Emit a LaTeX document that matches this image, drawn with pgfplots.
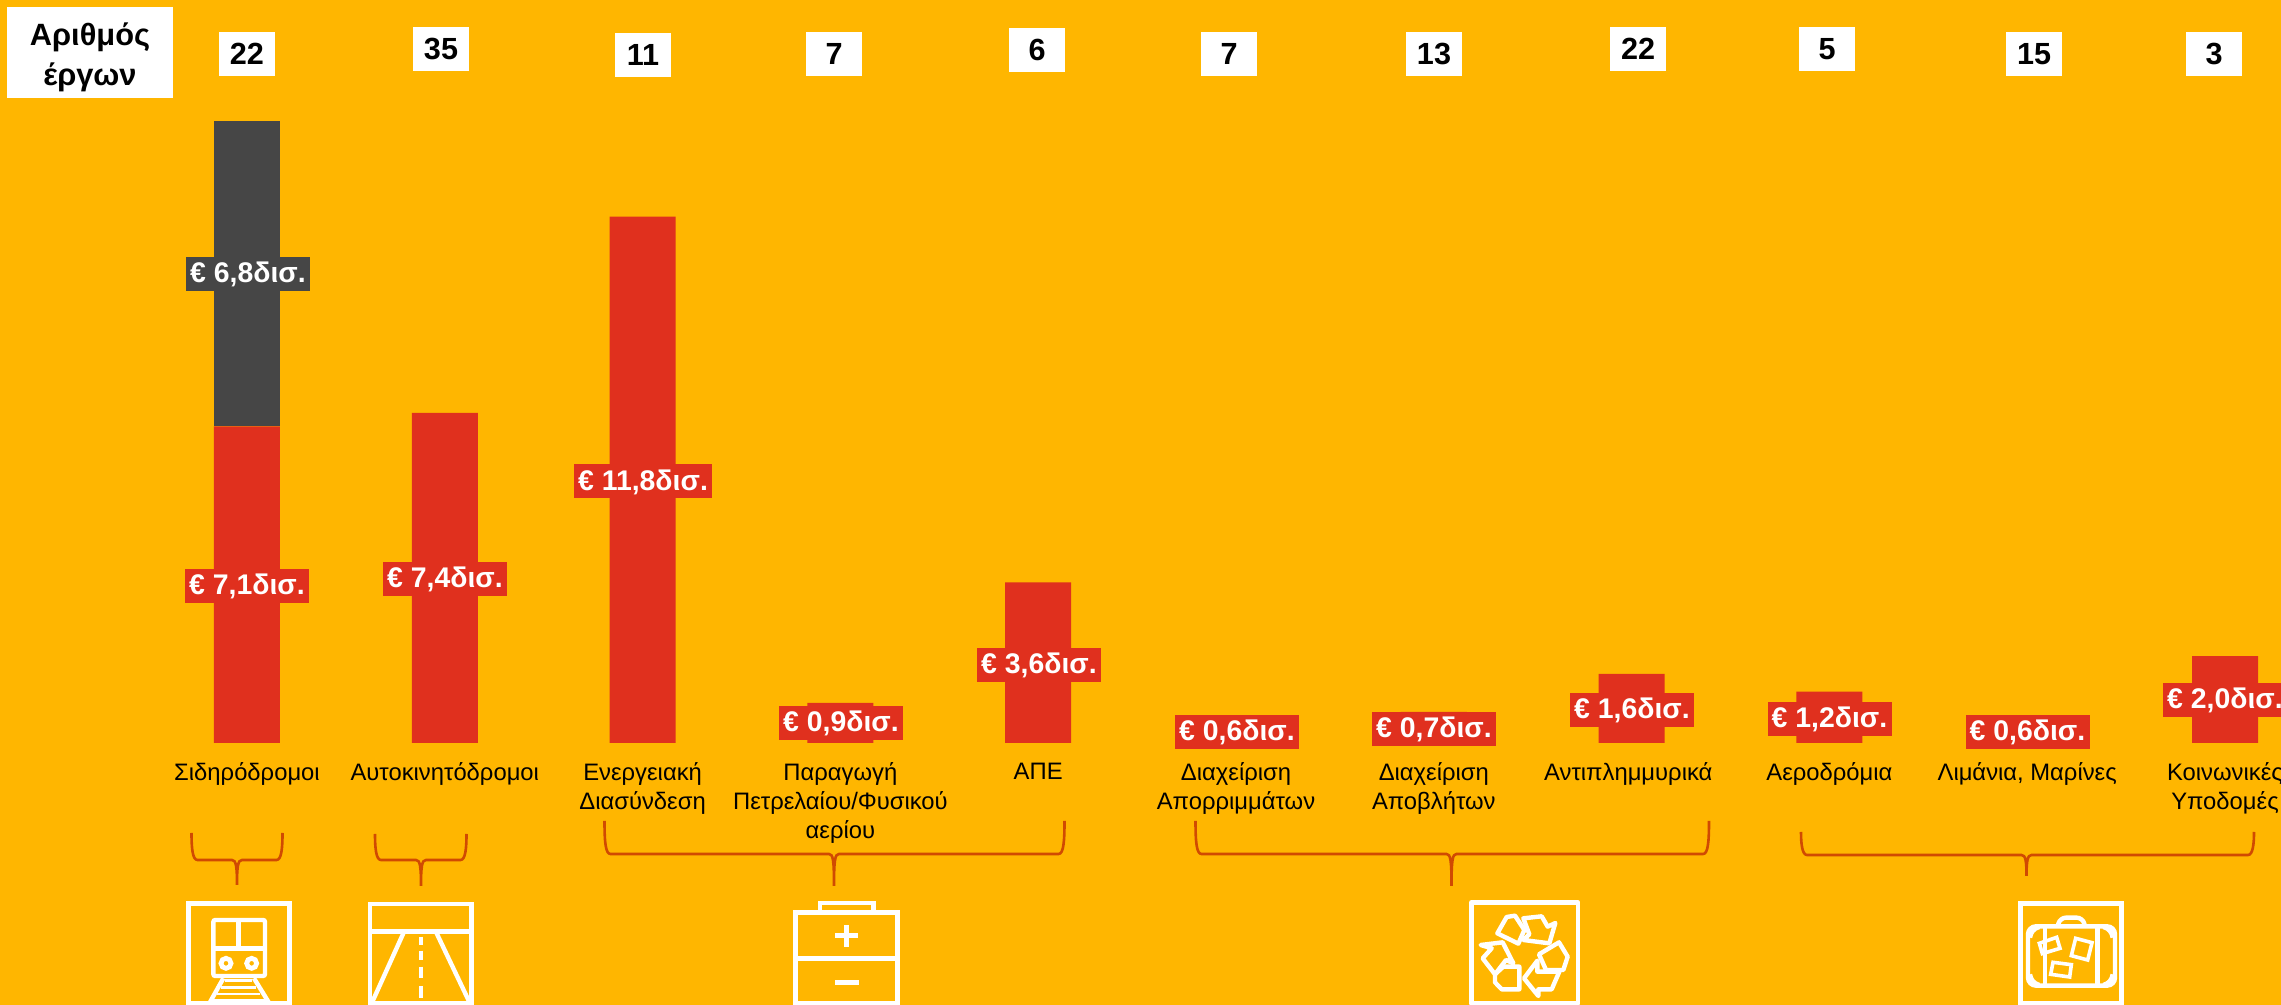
\documentclass[border=0pt]{standalone}
\usepackage{fontspec}
\setmainfont{Liberation Sans}
\usepackage{pgfplots}
\pgfplotsset{compat=1.18}
\definecolor{bgc}{HTML}{FFB600}
\definecolor{redc}{HTML}{E0301E}
\definecolor{darkc}{HTML}{464646}
\definecolor{bracec}{HTML}{D04A02}
% value box on a bar, count box at the top (pixel positions of the reference)
\newcommand{\vlab}[5][62pt]{\node[fill=#4,text=white,font=\fontsize{14.2}{17}\selectfont\bfseries,minimum width=#1,text height=13pt,text depth=4pt,inner sep=0pt] at (#2,#3) {#5};}
\newcommand{\nlab}[3]{\node[fill=white,text=black,font=\fontsize{15.3}{18}\selectfont\bfseries,minimum width=28pt,minimum height=22pt,inner sep=0pt] at (#1,#2) {#3};}
\newcommand{\bracket}[6]{\draw[bracec,line width=1.3pt] (#1,#4) .. controls (#1,#5-12) and (#1+1,#5) .. (#1+6,#5) -- (#3-5,#5) .. controls (#3-1,#5) and (#3,#5+6) .. (#3,#6) .. controls (#3,#5+6) and (#3+1,#5) .. (#3+5,#5) -- (#2-6,#5) .. controls (#2-1,#5) and (#2,#5-12) .. (#2,#4);}
\begin{document}
\begin{tikzpicture}
\path[use as bounding box,clip] (0,0) rectangle (1140.5pt,502.5pt);
\begin{axis}[
 at={(0,0)},anchor=south west,scale only axis,
 width=1140.5pt,height=502.5pt,
 xmin=-1.2487,xmax=10.2831,ymin=-5.8744,ymax=16.6592,
 axis background/.style={fill=bgc},
 axis x line=middle,axis y line=none,
 axis line style={draw=none},
 x axis line style={-},
 major tick length=0pt,ytick=\empty,
 xtick={0,...,10},
 xticklabels={Σιδηρόδρομοι,Αυτοκινητόδρομοι,{Ενεργειακή\\Διασύνδεση},{Παραγωγή\\Πετρελαίου/Φυσικού\\αερίου},ΑΠΕ,{Διαχείριση\\Απορριμμάτων},{Διαχείριση\\Αποβλήτων},Αντιπλημμυρικά\hspace*{3.3pt},Αεροδρόμια,{Λιμάνια, Μαρίνες},{Κοινωνικές\\Υποδομές}},
 xticklabel style={font=\fontsize{11.9}{14.5}\selectfont,align=center,anchor=north,yshift=-6.5pt},
 ybar stacked,bar width=33pt,clip=false]
\addplot[draw=none,fill=redc] coordinates {(0,7.1) (1,7.4) (2,11.8) (3,0.9) (4,3.6) (5,0.6) (6,0.7) (7,1.55) (8,1.15) (9,0.6) (10,1.95)};
\addplot[draw=none,fill=darkc] coordinates {(0,6.85) (1,0) (2,0) (3,0) (4,0) (5,0) (6,0) (7,0) (8,0) (9,0) (10,0)};
\end{axis}
\begin{scope}[x=.5pt,y=-.5pt,yshift=502.5pt]
\node[fill=white,minimum width=83pt,minimum height=45.5pt,inner sep=0pt] at (90,52.5) {};
\node[text=black,align=center,font=\fontsize{15.4}{20}\selectfont\bfseries,inner sep=0pt] at (90,57) {Αριθμός\\έργων};
\nlab{247}{54}{22}
\nlab{441}{49}{35}
\nlab{643}{55}{11}
\nlab{834}{54}{7}
\nlab{1037}{50}{6}
\nlab{1229}{54}{7}
\nlab{1434}{54}{13}
\nlab{1638}{49}{22}
\nlab{1827}{49.5}{5}
\nlab{2034}{54}{15}
\nlab{2214}{54}{3}
\vlab{248}{274}{darkc}{€ 6,8δισ.}
\vlab{247}{586}{redc}{€ 7,1δισ.}
\vlab{445}{579}{redc}{€ 7,4δισ.}
\vlab[69pt]{643}{481.5}{redc}{€ 11,8δισ.}
\vlab{841}{723}{redc}{€ 0,9δισ.}
\vlab{1039}{665}{redc}{€ 3,6δισ.}
\vlab{1237}{732}{redc}{€ 0,6δισ.}
\vlab{1434}{729}{redc}{€ 0,7δισ.}
\vlab{1632}{710}{redc}{€ 1,6δισ.}
\vlab{1829.5}{719}{redc}{€ 1,2δισ.}
\vlab{2027.5}{732}{redc}{€ 0,6δισ.}
\vlab{2225}{700}{redc}{€ 2,0δισ.}
\bracket{191.5}{282.5}{237}{833}{860}{885}
\bracket{375}{466.5}{421}{834}{860}{886}
\bracket{604.5}{1064.5}{834}{821}{854}{886}
\bracket{1195.5}{1709}{1451.5}{821}{854}{886}
\bracket{1801}{2254}{2026.5}{832}{855}{876}
% train
\begin{scope}[shift={(180,895)},x=1pt/6,y=-1pt/6,white,line width=2.2pt]
\draw (25,25) rectangle (329,325);
\draw[rounded corners=1pt] (100,75) rectangle (255,243);
\draw (100,160) -- (255,160) (176,75) -- (176,160);
\draw[line width=2.4pt] (138,205) circle[radius=15] (215,205) circle[radius=15];
\draw (130,250) -- (88,325) (222,250) -- (268,325);
\draw[line width=1.4pt] (135,257) -- (215,257) (122,277) -- (228,277) (112,297) -- (240,297) (100,317) -- (255,317);
\end{scope}
% road
\begin{scope}[shift={(360,895)},x=1pt/6,y=-1pt/6,white,line width=2.2pt]
\draw (30,27) rectangle (335,325);
\draw (30,109) -- (335,109);
\draw (130,115) -- (35,325) (230,115) -- (330,325);
\draw[line width=2.4pt] (183,125) -- (183,150) (183,167) -- (183,195) (183,215) -- (183,248) (183,273) -- (183,310);
\end{scope}
% battery
\begin{scope}[shift={(785,895)},x=1pt/6,y=-1pt/6,white,line width=2.2pt]
\draw (32,53) rectangle (338,325);
\draw (105,53) -- (105,24) -- (265,24) -- (265,53);
\draw (32,191) -- (338,191);
\draw[line width=2.4pt] (150,122) -- (220,122) (185,90) -- (185,155) (150,262) -- (222,262);
\end{scope}
% recycling
\begin{scope}[shift={(1460,895)},x=1pt/6,y=-1pt/6,white,line width=2.2pt,line join=round]
\draw (34,22) rectangle (354,325);
\draw (112,115) -- (140,66) -- (165,62) -- (193,105) -- (175,146) -- cycle;
\draw (190,70) -- (245,64) -- (263,95) -- (286,84) -- (268,145) -- (190,135) -- (208,118) -- cycle;
\draw (62,150) -- (128,142) -- (160,205) -- (138,195) -- (105,238) -- (68,190) -- (95,160) -- cycle;
\draw (130,215) -- (178,215) -- (178,283) -- (125,283) -- (105,262) -- (105,238) -- cycle;
\draw (237,178) -- (297,142) -- (323,185) -- (310,225) -- (258,225) -- cycle;
\draw (232,197) -- (192,250) -- (235,303) -- (235,283) -- (275,283) -- (298,230) -- (232,230) -- cycle;
\end{scope}
% suitcase
\begin{scope}[shift={(2010,895)},x=1pt/6,y=-1pt/6,white,line width=2.2pt]
\draw (32,25) rectangle (335,325);
\draw[rounded corners=4pt] (54,94) rectangle (315,272);
\draw[rounded corners=3pt] (143,94) -- (150,68) -- (218,68) -- (225,94);
\draw (105,94) -- (105,272) (262,94) -- (262,272);
\draw (60,128) .. controls (62,112) and (72,100) .. (88,96);
\draw (308,128) .. controls (306,112) and (296,100) .. (280,96);
\draw (60,238) .. controls (62,254) and (72,266) .. (88,270);
\draw (308,238) .. controls (306,254) and (296,266) .. (280,270);
\draw[line width=1.8pt] (88,145) -- (140,127) -- (150,160) -- (97,176) -- cycle;
\draw[line width=1.8pt] (197,130) -- (246,143) -- (233,195) -- (184,182) -- cycle;
\draw[line width=1.8pt] (129,202) -- (184,209) -- (179,246) -- (122,238) -- cycle;
\end{scope}
\end{scope}
\end{tikzpicture}
\end{document}
